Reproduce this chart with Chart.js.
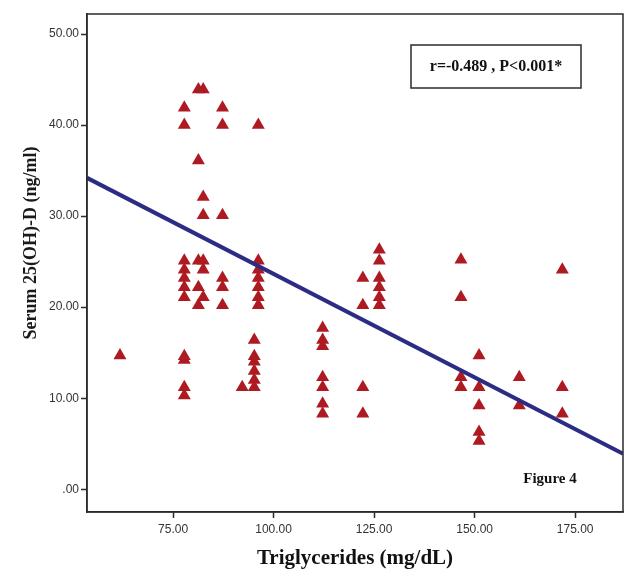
<!DOCTYPE html>
<html>
<head>
<meta charset="utf-8">
<script src="https://cdn.jsdelivr.net/npm/chart.js@4"></script>
<style>
  html, body { margin: 0; padding: 0; background: #fff; }
  #wrap { width: 625px; height: 576px; position: relative; }
</style>
</head>
<body>
<div id="wrap"><canvas id="scatterChart" width="625" height="576"></canvas></div>
<script>
// scatter values (triglycerides vs serum vitamin D)
const triglycerides = [
  61.8,
  77.8, 77.8, 77.8, 77.8, 77.8, 77.8, 77.8, 77.8, 77.8, 77.8, 77.8,
  81.3, 81.3, 81.3, 81.3, 81.3,
  82.5, 82.5, 82.5, 82.5, 82.5, 82.5,
  87.3, 87.3, 87.3, 87.3, 87.3, 87.3,
  92.2,
  95.2, 95.2, 95.2, 95.2, 95.2, 95.2,
  96.2, 96.2, 96.2, 96.2, 96.2, 96.2, 96.2,
  112.2, 112.2, 112.2, 112.2, 112.2, 112.2, 112.2,
  122.2, 122.2, 122.2, 122.2,
  126.3, 126.3, 126.3, 126.3, 126.3, 126.3,
  146.6, 146.6, 146.6, 146.6,
  151.1, 151.1, 151.1, 151.1, 151.1,
  161.1, 161.1,
  171.8, 171.8, 171.8
];
const vitaminD = [
  14.7,
  41.9, 40.0, 25.1, 24.1, 23.2, 22.2, 21.1, 14.6, 14.2, 11.2, 10.3,
  43.9, 36.1, 25.1, 22.2, 20.2,
  43.9, 32.1, 30.1, 25.1, 24.1, 21.1,
  41.9, 40.0, 30.1, 23.2, 22.2, 20.2,
  11.2,
  16.4, 14.6, 14.0, 13.0, 12.0, 11.2,
  40.0, 25.1, 24.1, 23.2, 22.2, 21.1, 20.2,
  17.7, 16.4, 15.7, 12.3, 11.2, 9.4, 8.3,
  23.2, 20.2, 11.2, 8.3,
  26.3, 25.1, 23.2, 22.2, 21.1, 20.2,
  25.2, 21.1, 12.3, 11.2,
  14.7, 11.2, 9.2, 6.3, 5.3,
  12.3, 9.2,
  24.1, 11.2, 8.3
];
// fit line end points (read at the plot edges)
const fitX = [53.6, 186.9];
const fitY = [34.2, 3.9];
// tick labels
const xTicks = [75, 100, 125, 150, 175];
const yTicks = [0, 10, 20, 30, 40, 50];

const points = triglycerides.map((t, i) => ({ x: t, y: vitaminD[i] }));
const fitLine = fitX.map((t, i) => ({ x: t, y: fitY[i] }));

function fmt(v) {
  // SPSS style: ".00" for zero
  return v === 0 ? '.00' : v.toFixed(2);
}

// frame round the plot area, the y title and the two text notes
const framePlugin = {
  id: 'frame',
  afterDraw(chart) {
    const { ctx, chartArea: a } = chart;
    ctx.save();
    ctx.strokeStyle = '#2b2b2b';
    ctx.lineWidth = 1.5;
    ctx.strokeRect(a.left, a.top, a.right - a.left, a.bottom - a.top);
    // stats box
    ctx.strokeRect(411, 45, 170, 43);
    ctx.fillStyle = '#111';
    ctx.font = 'bold 16px "Liberation Serif"';
    ctx.textAlign = 'center';
    ctx.textBaseline = 'middle';
    ctx.fillText('r=-0.489 , P<0.001*', 496, 67);
    ctx.font = 'bold 15px "Liberation Serif"';
    ctx.fillText('Figure 4', 550, 479);
    // y axis title sits a bit above the middle of the axis
    ctx.translate(31, 243);
    ctx.rotate(-Math.PI / 2);
    ctx.fillStyle = '#1a1a1a';
    ctx.font = 'bold 18px "Liberation Serif"';
    ctx.fillText('Serum 25(OH)-D (ng/ml)', 0, 0);
    ctx.restore();
  }
};

new Chart(document.getElementById('scatterChart'), {
  type: 'scatter',
  data: {
    datasets: [
      {
        type: 'line',
        data: fitLine,
        borderColor: '#2c2c84',
        borderWidth: 4,
        pointRadius: 0,
        fill: false,
        order: 1
      },
      {
        data: points,
        pointStyle: 'triangle',
        pointRadius: 7.5,
        pointHoverRadius: 7.5,
        backgroundColor: '#ad1a22',
        borderColor: '#ad1a22',
        borderWidth: 0,
        order: 2
      }
    ]
  },
  options: {
    responsive: false,
    animation: false,
    layout: { autoPadding: false, padding: { top: 14, right: 2, left: 0, bottom: 0 } },
    plugins: { legend: { display: false }, tooltip: { enabled: false } },
    scales: {
      x: {
        type: 'linear',
        min: 53.6,
        max: 186.9,
        afterBuildTicks: s => { s.ticks = xTicks.map(v => ({ value: v })); },
        afterFit: s => { s.height = 64; s.paddingLeft = 0; s.paddingRight = 0; },
        grid: { drawOnChartArea: false, tickLength: 6, color: '#2b2b2b', tickWidth: 1.5 },
        border: { color: '#2b2b2b', width: 1.5 },
        ticks: {
          callback: v => fmt(v),
          color: '#333',
          font: { family: 'Liberation Sans', size: 12 },
          padding: 4,
          maxRotation: 0
        },
        title: {
          display: true,
          text: 'Triglycerides (mg/dL)',
          color: '#111',
          font: { family: 'Liberation Serif', size: 21, weight: 'bold' },
          padding: { top: 8, bottom: 5 }
        }
      },
      y: {
        type: 'linear',
        min: -2.5,
        max: 52.2,
        afterBuildTicks: s => { s.ticks = yTicks.map(v => ({ value: v })); },
        afterFit: s => { s.width = 87; },
        grid: { drawOnChartArea: false, tickLength: 6, color: '#2b2b2b', tickWidth: 1.5 },
        border: { color: '#2b2b2b', width: 1.5 },
        ticks: {
          callback: v => fmt(v),
          color: '#333',
          font: { family: 'Liberation Sans', size: 12 },
          padding: 2
        },
        title: { display: false }
      }
    }
  },
  plugins: [framePlugin]
});
</script>
</body>
</html>
